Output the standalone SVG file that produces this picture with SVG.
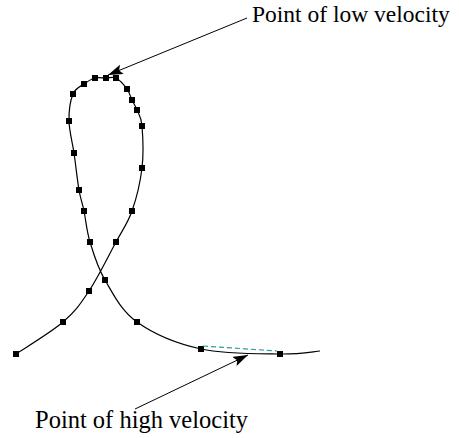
<svg xmlns="http://www.w3.org/2000/svg" width="459" height="438" viewBox="0 0 459 438">
<style>
.curve{fill:none;stroke:#000;stroke-width:1.2}
.pt{fill:#000}
.lbl{font-family:"Liberation Serif","Times New Roman",serif;fill:#000}
.arr{stroke:#000;stroke-width:1;fill:none}
.dash{stroke:#2a9d9d;stroke-width:1.2;stroke-dasharray:5,3;fill:none}
</style>
<defs>
<marker id="ah" markerUnits="userSpaceOnUse" markerWidth="16" markerHeight="10" refX="15" refY="5" orient="auto">
<path d="M0,0 L15,5 L0,10 L3,5 Z" fill="#000"/>
</marker>
</defs>
<g id="curve">
<path class="curve" d="M16,354 C23.8,348.7 50.8,332.5 63,322 C75.2,311.5 80.2,304.3 89,291 C97.8,277.7 108.8,255.3 116,242 C123.2,228.7 127.7,223.3 132,211 C136.3,198.7 140.3,182.2 142,168 C143.7,153.8 142.8,135.7 142,126 C141.2,116.3 138.7,114.3 137,110 C135.3,105.7 133.7,103.5 132,100 C130.3,96.5 129.7,92.7 127,89 C124.3,85.3 119.5,79.8 116,78 C112.5,76.2 109.5,78 106,78 C102.5,78 98.7,77 95,78 C91.3,79 87.7,81.3 84,84 C80.3,86.7 75.5,87.8 73,94 C70.5,100.2 68.8,111.2 69,121 C69.2,130.8 72.3,141.5 74,153 C75.7,164.5 77.3,180.3 79,190 C80.7,199.7 82.2,202.3 84,211 C85.8,219.7 86.5,230.5 90,242 C93.5,253.5 97.2,266.7 105,280 C112.8,293.3 121,310.5 137,322 C153,333.5 177.2,343.7 201,349 C224.8,354.3 260.2,353.7 280,354 C299.8,354.3 313.3,351.5 320,351"/>
</g>
<g id="points">
<rect class="pt" x="13" y="351" width="6" height="6"/>
<rect class="pt" x="60" y="319" width="6" height="6"/>
<rect class="pt" x="86" y="288" width="6" height="6"/>
<rect class="pt" x="113" y="239" width="6" height="6"/>
<rect class="pt" x="129" y="208" width="6" height="6"/>
<rect class="pt" x="139" y="165" width="6" height="6"/>
<rect class="pt" x="139" y="123" width="6" height="6"/>
<rect class="pt" x="134" y="107" width="6" height="6"/>
<rect class="pt" x="129" y="97" width="6" height="6"/>
<rect class="pt" x="124" y="86" width="6" height="6"/>
<rect class="pt" x="113" y="75" width="6" height="6"/>
<rect class="pt" x="103" y="75" width="6" height="6"/>
<rect class="pt" x="92" y="75" width="6" height="6"/>
<rect class="pt" x="81" y="81" width="6" height="6"/>
<rect class="pt" x="70" y="91" width="6" height="6"/>
<rect class="pt" x="66" y="118" width="6" height="6"/>
<rect class="pt" x="71" y="150" width="6" height="6"/>
<rect class="pt" x="76" y="187" width="6" height="6"/>
<rect class="pt" x="81" y="208" width="6" height="6"/>
<rect class="pt" x="87" y="239" width="6" height="6"/>
<rect class="pt" x="102" y="277" width="6" height="6"/>
<rect class="pt" x="134" y="319" width="6" height="6"/>
<rect class="pt" x="198" y="346" width="6" height="6"/>
<rect class="pt" x="277" y="351" width="6" height="6"/>
</g>
<g id="connectors">
<line class="dash" x1="203" y1="346" x2="277" y2="351"/>
<line class="arr" x1="247" y1="18" x2="108" y2="75" marker-end="url(#ah)"/>
<line class="arr" x1="135" y1="409" x2="248" y2="355" marker-end="url(#ah)"/>
</g>
<g id="label-low">
<text class="lbl" x="252" y="22" font-size="23.5">Point of low velocity</text>
</g>
<g id="label-high">
<text class="lbl" x="35" y="428" font-size="24.5">Point of high velocity</text>
</g>
</svg>
